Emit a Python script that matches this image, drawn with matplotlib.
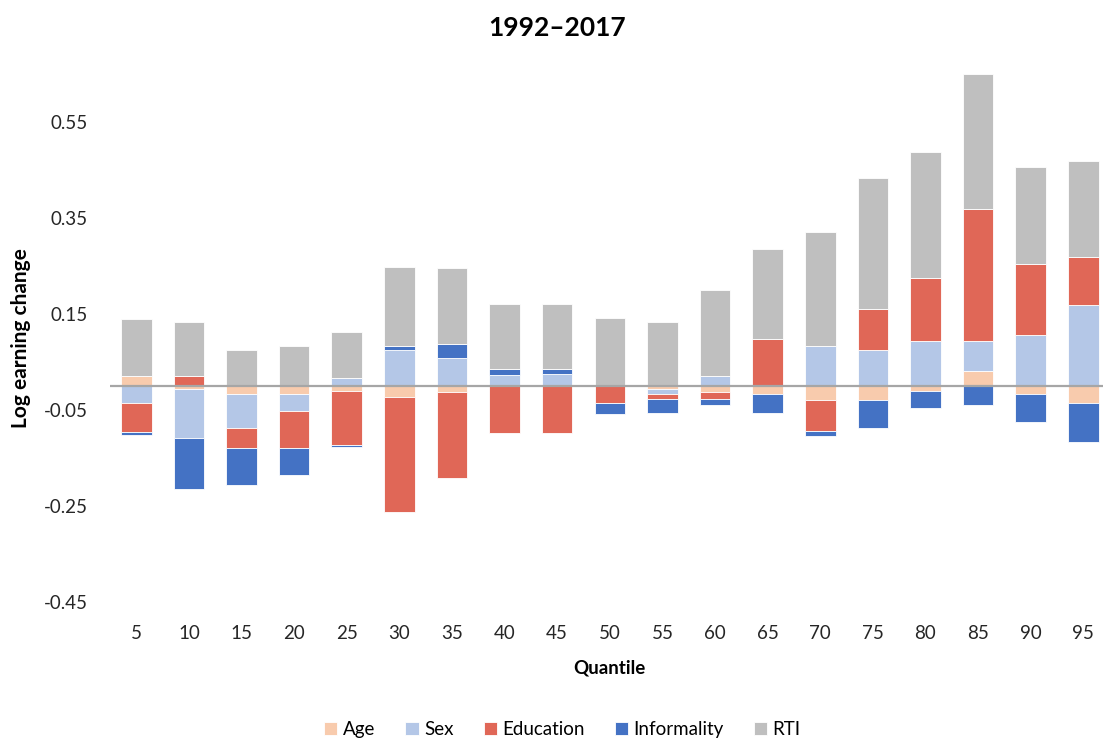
import numpy as np
import matplotlib.pyplot as plt

plt.rcParams['font.family'] = ['Lato', 'DejaVu Sans']

quantiles = [5, 10, 15, 20, 25, 30, 35, 40, 45, 50, 55, 60, 65, 70, 75, 80, 85, 90, 95]

age = [0.022, -0.006, -0.017, -0.017, -0.011, -0.022, -0.012, 0.0, 0.0, 0.0,
       -0.006, -0.012, -0.017, -0.029, -0.029, -0.010, 0.031, -0.017, -0.035]
sex = [-0.036, -0.103, -0.070, -0.035, 0.017, 0.076, 0.059, 0.023, 0.025, 0.0,
       -0.011, 0.022, 0.0, 0.083, 0.076, 0.094, 0.063, 0.107, 0.170]
education = [-0.059, 0.022, -0.042, -0.076, -0.112, -0.240, -0.180, -0.098, -0.098, -0.036,
             -0.010, -0.015, 0.099, -0.065, 0.085, 0.131, 0.276, 0.147, 0.099]
informality = [-0.006, -0.106, -0.076, -0.058, -0.004, 0.007, 0.028, 0.013, 0.011, -0.022,
               -0.029, -0.013, -0.039, -0.010, -0.059, -0.035, -0.040, -0.058, -0.082]
rti = [0.119, 0.112, 0.076, 0.083, 0.095, 0.165, 0.159, 0.135, 0.135, 0.142,
       0.134, 0.178, 0.187, 0.238, 0.272, 0.264, 0.280, 0.203, 0.201]

series = [("Age", age, "#F8CBAD"),
          ("Sex", sex, "#B4C7E7"),
          ("Education", education, "#E06757"),
          ("Informality", informality, "#4472C4"),
          ("RTI", rti, "#BFBFBF")]

fig = plt.figure(figsize=(11.03, 7.40), dpi=100)
ax = fig.add_axes([0.0997, 0.1735, 0.9063, 0.7454])

x = np.arange(len(quantiles))
pos_base = np.zeros(len(quantiles))
neg_base = np.zeros(len(quantiles))
for name, vals, col in series:
    v = np.array(vals)
    bottom = np.where(v >= 0, pos_base, neg_base)
    ax.bar(x, v, 0.58, bottom=bottom, color=col, label=name,
           edgecolor="white", linewidth=0.6)
    pos_base = pos_base + np.where(v > 0, v, 0)
    neg_base = neg_base + np.where(v < 0, v, 0)

ax.axhline(0, color="#A6A6A6", linewidth=1.6, zorder=3)

ax.set_xlim(-0.5, 18.5)
ax.set_ylim(-0.47, 0.68)
ax.set_yticks([0.55, 0.35, 0.15, -0.05, -0.25, -0.45])
ax.set_yticklabels(["0.55", "0.35", "0.15", "-0.05", "-0.25", "-0.45"])
ax.set_xticks(x)
ax.set_xticklabels([str(q) for q in quantiles])
ax.tick_params(axis="both", length=0, labelsize=13.5, colors="#262626")
ax.tick_params(axis="y", pad=16)
ax.tick_params(axis="x", pad=10)
for s in ax.spines.values():
    s.set_visible(False)

ax.set_xlabel("Quantile", fontsize=13.5, fontweight="bold", labelpad=12)
fig.text(0.019, 0.543, "Log earning change", rotation=90, fontsize=15,
         fontweight="bold", ha="center", va="center")
fig.text(0.505, 0.962, "1992\u20132017", fontsize=19, fontweight="bold",
         ha="center", va="center")

fig.legend(loc="center", bbox_to_anchor=(0.51, 0.014), ncol=5, frameon=False,
           fontsize=13.5, handlelength=0.7, handleheight=0.7, columnspacing=1.6,
           handletextpad=0.3)

fig.savefig("out.png", dpi=100)
